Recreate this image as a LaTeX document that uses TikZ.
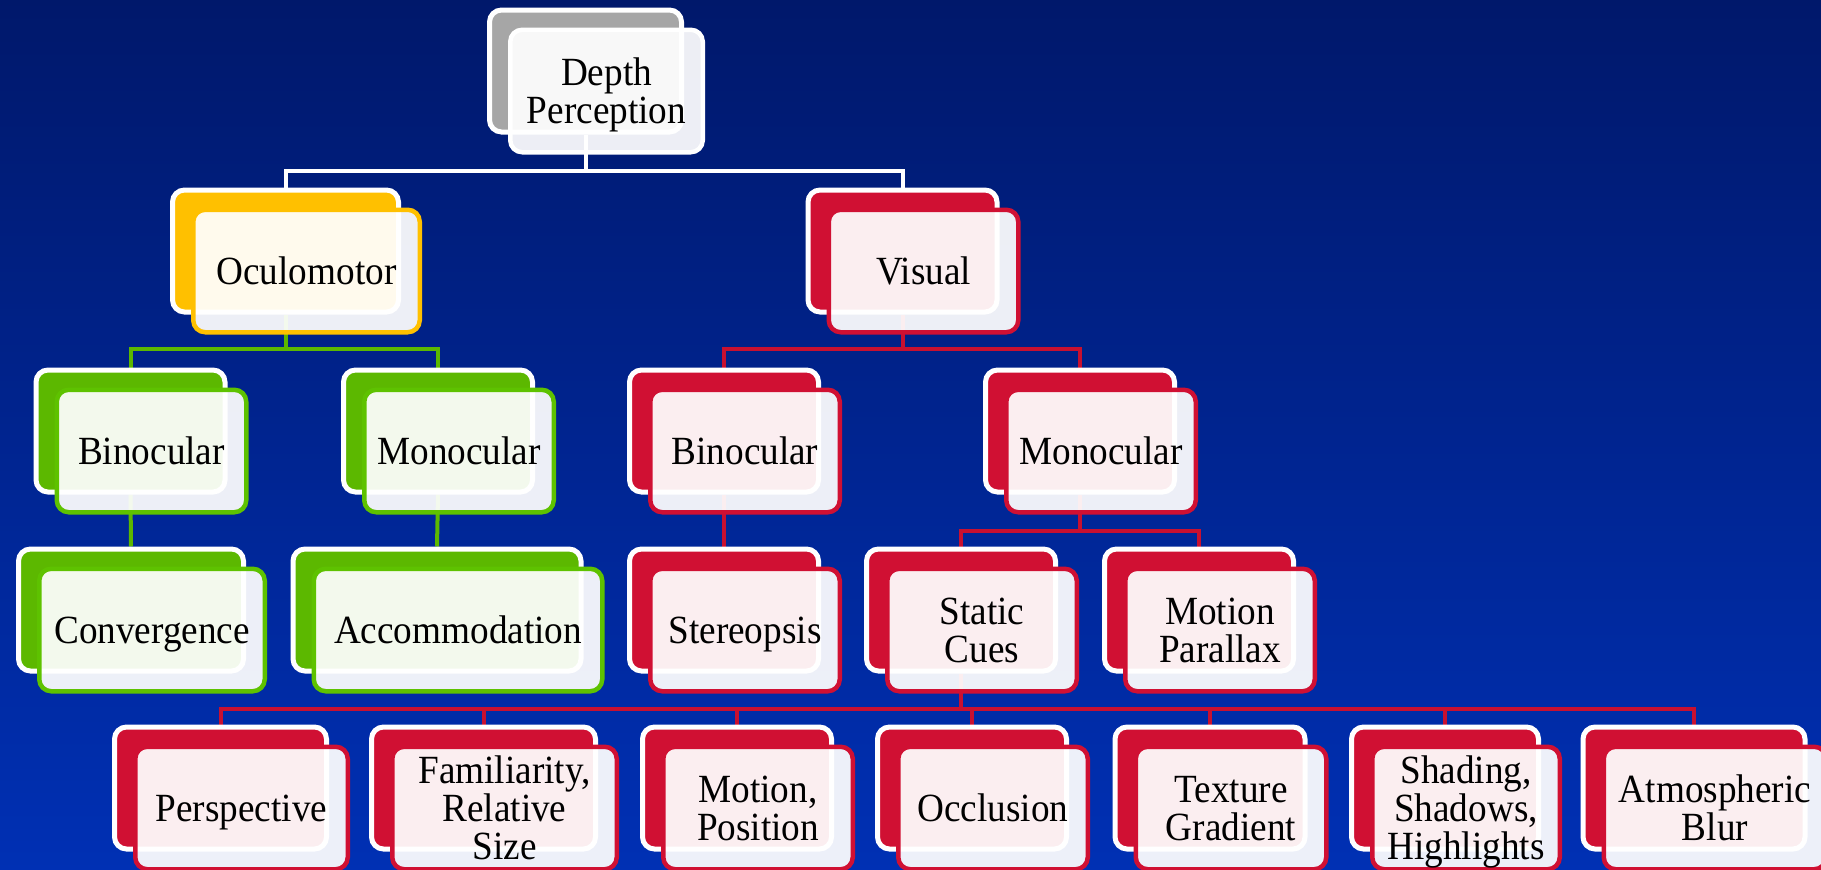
\documentclass[tikz,border=0pt]{standalone}
\usepackage{fontspec}
\setmainfont{Liberation Serif}[FakeStretch=0.93]
\definecolor{bgtop}{HTML}{00186B}
\definecolor{bgbot}{HTML}{0030B4}
\definecolor{dpgold}{HTML}{FFC000}
\definecolor{dpgreen}{HTML}{5CB800}
\definecolor{dpgreenb}{HTML}{5EC200}
\definecolor{dpred}{HTML}{D01033}
\definecolor{dpredl}{HTML}{C81030}
\definecolor{dpgray}{HTML}{A6A6A6}
\pgfdeclarelayer{bg}
\pgfdeclarelayer{lines}
\pgfsetlayers{bg,lines,main}
\tikzset{
  backbox/.style={rectangle, rounded corners=12pt, draw=white, line width=5pt,
    minimum height=122pt, inner sep=0pt},
  frontbox/.style={rectangle, rounded corners=12pt, line width=4.5pt,
    fill=white, fill opacity=0.93,
    minimum height=122.5pt, inner sep=0pt},
  dptext/.style={inner sep=0pt, align=center, text=black,
    text height=27.5pt, text depth=0pt,
    font={\fontsize{40}{38}\selectfont}},
  twolines/.style={text height=65.5pt},
  threelines/.style={text height=103.5pt},
  conn/.style={line width=4pt, draw=#1},
}
% #1 name, #2 x, #3 y, #4 outer width, #5 back fill, #6 front border, #7 text style, #8 text
\newcommand\dpbox[8]{%
  \node[backbox, fill=#5, minimum width=#4-5] (#1b) at (#2,#3) {};
  \node[frontbox, draw=#6, minimum width=#4-4.5] (#1) at (#2+21,#3+20) {};
  \node[dptext,#7] (#1t) at (#1.center) {#8};}
\begin{document}
\begin{tikzpicture}[x=1pt,y=-1pt]
\useasboundingbox (0,0) rectangle (1821,870);
\clip (0,0) rectangle (1821,870);
\begin{pgfonlayer}{bg}
\shade[top color=bgtop, bottom color=bgbot] (0,0) rectangle (1821,870);
\end{pgfonlayer}
% level 0
\dpbox{root}{585.5}{71}{197}{dpgray}{white}{twolines}{Depth\\Perception}
% level 1
\dpbox{oculo}{285.5}{251}{231}{dpgold}{dpgold}{}{Oculomotor}
\dpbox{visual}{902.5}{251}{194}{dpred}{dpred}{}{Visual}
% level 2
\dpbox{gbin}{130.5}{431}{194}{dpgreen}{dpgreenb}{}{Binocular}
\dpbox{gmono}{438}{431}{194}{dpgreen}{dpgreenb}{}{Monocular}
\dpbox{rbin}{724}{431}{194}{dpred}{dpred}{}{Binocular}
\dpbox{rmono}{1080}{431}{194}{dpred}{dpred}{}{Monocular}
% level 3
\dpbox{conv}{131}{610}{230}{dpgreen}{dpgreenb}{}{Convergence}
\dpbox{accom}{437}{610}{293}{dpgreen}{dpgreenb}{}{Accommodation}
\dpbox{stereo}{724}{610}{194}{dpred}{dpred}{}{Stereopsis}
\dpbox{static}{961}{610}{194}{dpred}{dpred}{twolines}{Static\\Cues}
\dpbox{motpar}{1199}{610}{194}{dpred}{dpred}{twolines}{Motion\\Parallax}
% level 4
\dpbox{persp}{220.5}{788}{217}{dpred}{dpred}{}{Perspective}
\dpbox{famil}{483.5}{788}{229}{dpred}{dpred}{threelines}{Familiarity,\\Relative\\Size}
\dpbox{motpos}{737}{788}{194}{dpred}{dpred}{twolines}{Motion,\\Position}
\dpbox{occl}{972}{788}{194}{dpred}{dpred}{}{Occlusion}
\dpbox{textu}{1210}{788}{195}{dpred}{dpred}{twolines}{Texture\\Gradient}
\dpbox{shad}{1445}{788}{192}{dpred}{dpred}{threelines}{Shading,\\Shadows,\\Highlights}
\dpbox{atmo}{1694}{788}{227}{dpred}{dpred}{twolines}{Atmospheric\\Blur}
% connectors
\coordinate (bus0) at (0,171);
\coordinate (bus1) at (0,349);
\coordinate (bus2) at (0,531);
\coordinate (bus3) at (0,709);
\begin{pgfonlayer}{lines}
\draw[conn=white] (rootb.south) -- (rootb.south |- bus0) -| (oculob.north);
\draw[conn=white] (rootb.south |- bus0) -| (visualb.north);
\draw[conn=dpgreen] (oculob.south) -- (oculob.south |- bus1) -| (gbinb.north);
\draw[conn=dpgreen] (oculob.south |- bus1) -| (gmonob.north);
\draw[conn=dpredl] (visualb.south) -- (visualb.south |- bus1) -| (rbinb.north);
\draw[conn=dpredl] (visualb.south |- bus1) -| (rmonob.north);
\draw[conn=dpgreen] (gbinb.south) -- (convb.north);
\draw[conn=dpgreen] (gmonob.south) -- (accomb.north);
\draw[conn=dpredl] (rbinb.south) -- (stereob.north);
\draw[conn=dpredl] (rmonob.south) -- (rmonob.south |- bus2) -| (staticb.north);
\draw[conn=dpredl] (rmonob.south |- bus2) -| (motparb.north);
\draw[conn=dpredl] (staticb.south) -- (staticb.south |- bus3) -| (perspb.north);
\draw[conn=dpredl] (staticb.south |- bus3) -| (familb.north);
\draw[conn=dpredl] (staticb.south |- bus3) -| (motposb.north);
\draw[conn=dpredl] (staticb.south |- bus3) -| (occlb.north);
\draw[conn=dpredl] (staticb.south |- bus3) -| (textub.north);
\draw[conn=dpredl] (staticb.south |- bus3) -| (shadb.north);
\draw[conn=dpredl] (staticb.south |- bus3) -| (atmob.north);
\end{pgfonlayer}
\end{tikzpicture}
\end{document}
